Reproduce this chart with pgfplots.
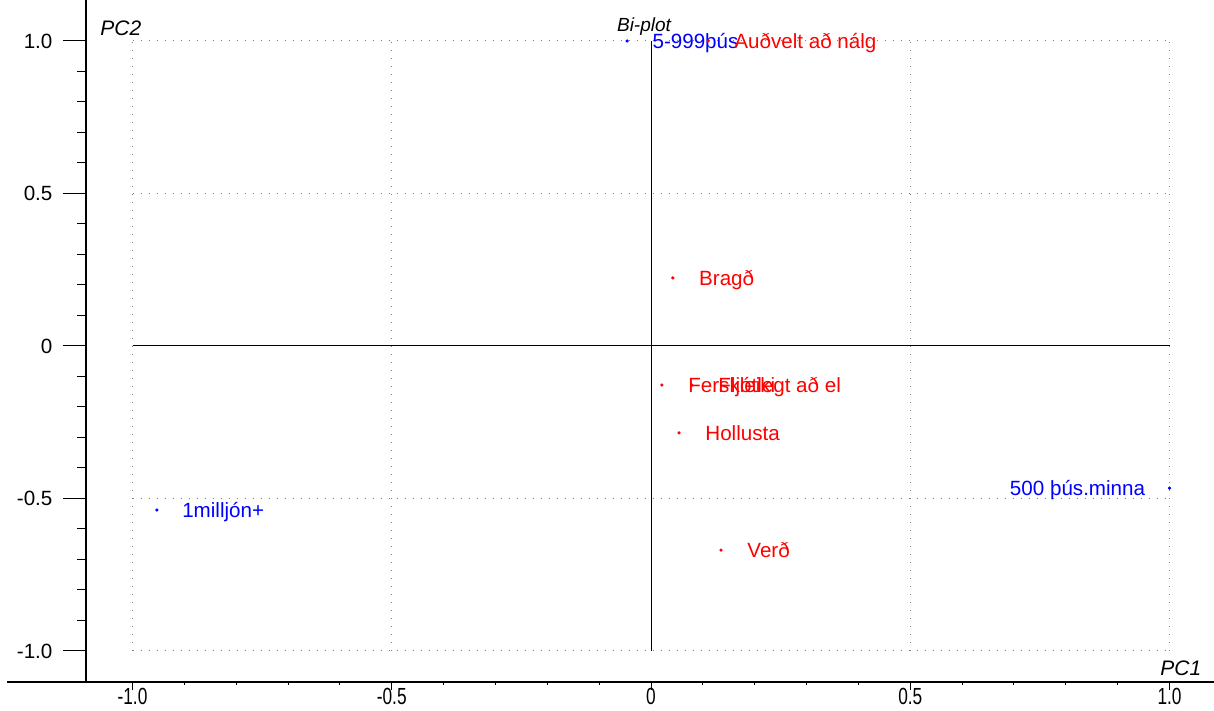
\documentclass[border=0pt]{standalone}
\usepackage{fontspec}
\setmainfont{Liberation Sans}
\usepackage{pgfplots}
\pgfplotsset{compat=1.18}
\begin{document}
\begin{tikzpicture}
\begin{axis}[
  name=ax,
  x=259.25pt, y=152.5pt,
  xmin=-1.0897, xmax=1.0858, ymin=-1.1016, ymax=1.1344,
  axis x line=bottom, axis y line=left,
  axis line style={-, black, line width=0.6pt},
  clip=false,
  xtick={-1,-0.5,0,0.5,1},
  ytick={-1,-0.5,0,0.5,1}, yticklabels={-1.0,-0.5,0,0.5,1.0},
  minor x tick num=4, minor y tick num=4,
  tick align=outside,
  xtick style={black, line width=0.5pt, /pgfplots/major tick length=4pt, /pgfplots/minor tick length=1.5pt},
  ytick style={black, line width=0.5pt, /pgfplots/major tick length=11.5pt, /pgfplots/minor tick length=4.5pt},
  yticklabel style={font=\fontsize{10.3}{12}\selectfont, xshift=-9pt},
  xticklabel style={font=\fontsize{10.8}{12}\selectfont, yshift=4.5pt},
  xticklabel={\scalebox{0.8}[1.08]{\ifcase\ticknum -1.0\or -0.5\or 0\or 0.5\or 1.0\fi}},
]
% extension of x axis line to the left
\addplot[black, line width=0.6pt] coordinates {(-1.242,-1.1016) (-1.0897,-1.1016)};
% dotted grid
\addplot[gray, line width=0.5pt, dash pattern=on 0.5pt off 3.5pt] coordinates {(-1,1) (1,1)};
\addplot[gray, line width=0.5pt, dash pattern=on 0.5pt off 3.5pt] coordinates {(-1,0.5) (1,0.5)};
\addplot[gray, line width=0.5pt, dash pattern=on 0.5pt off 3.5pt] coordinates {(-1,-0.5) (1,-0.5)};
\addplot[gray, line width=0.5pt, dash pattern=on 0.5pt off 3.5pt] coordinates {(-1,-1) (1,-1)};
\addplot[gray, line width=0.5pt, dash pattern=on 0.5pt off 3.5pt] coordinates {(-1,-1) (-1,1)};
\addplot[gray, line width=0.5pt, dash pattern=on 0.5pt off 3.5pt] coordinates {(-0.5,-1) (-0.5,1)};
\addplot[gray, line width=0.5pt, dash pattern=on 0.5pt off 3.5pt] coordinates {(0.5,-1) (0.5,1)};
\addplot[gray, line width=0.5pt, dash pattern=on 0.5pt off 3.5pt] coordinates {(1,-1) (1,1)};
% cross lines
\addplot[black, line width=0.5pt] coordinates {(-1,0) (1,0)};
\addplot[black, line width=0.5pt] coordinates {(0,-1) (0,1)};
% blue points, labels right
\addplot[only marks, blue, mark=*, mark size=0.6pt,
  point meta=explicit symbolic, nodes near coords,
  every node near coord/.append style={anchor=west, xshift=12.5pt, inner sep=0pt, text height=7.4pt, text depth=0pt, font=\fontsize{10.3}{12}\selectfont, text=blue}]
  coordinates {(-0.046,1.0) [5-999þús] (-0.953,-0.538) [1milljón+]};
% blue point, label left
\addplot[only marks, blue, mark=*, mark size=0.6pt,
  point meta=explicit symbolic, nodes near coords,
  every node near coord/.append style={anchor=east, xshift=-12pt, inner sep=0pt, text height=7.4pt, text depth=0pt, font=\fontsize{10.3}{12}\selectfont, text=blue}]
  coordinates {(1.0,-0.466) [500 þús.minna]};
% red points
\addplot[only marks, red, mark=*, mark size=0.6pt,
  point meta=explicit symbolic, nodes near coords,
  every node near coord/.append style={anchor=west, xshift=13pt, inner sep=0pt, text height=7.4pt, text depth=0pt, font=\fontsize{10.3}{12}\selectfont, text=red}]
  coordinates {(0.110,1.0) [Auðvelt að nálg] (0.042,0.223) [Bragð] (0.021,-0.128) [Ferskleiki] (0.079,-0.128) [Fljótlegt að el] (0.054,-0.285) [Hollusta] (0.135,-0.669) [Verð]};
% titles
\node[font=\itshape\fontsize{10.5}{12}\selectfont, anchor=west, inner sep=0pt] at (axis cs:-1.0627,1.0426) {PC2};
\node[font=\itshape\fontsize{9.5}{11}\selectfont, inner sep=0pt] at (axis cs:-0.0135,1.046) {Bi-plot};
\node[font=\itshape\fontsize{10.5}{12}\selectfont, anchor=west, inner sep=0pt] at (axis cs:0.9817,-1.0557) {PC1};
\end{axis}
\pgfresetboundingbox
\path[use as bounding box] ([xshift=-43pt,yshift=-14.5pt]ax.south west) rectangle (ax.north east);
\end{tikzpicture}
\end{document}
